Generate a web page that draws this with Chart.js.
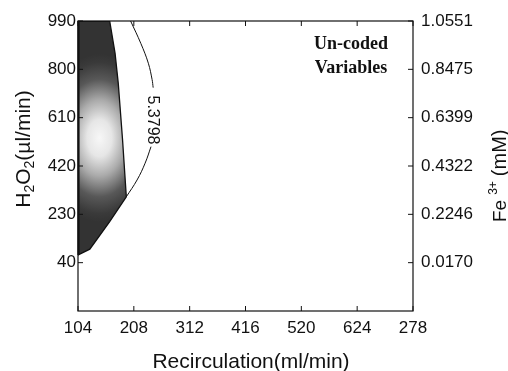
<!DOCTYPE html>
<html><head><meta charset="utf-8">
<script src="https://cdn.jsdelivr.net/npm/chart.js@4"></script>
<style>html,body{margin:0;padding:0;background:#fff}</style>
</head><body>
<canvas id="c" width="508" height="371"></canvas>
<script>
// ---- data ----
const xTickValues = [104, 208, 312, 416, 520, 624, 728];
const xTickLabels = ['104', '208', '312', '416', '520', '624', '278'];
const h2o2Ticks = [40, 230, 420, 610, 800, 990];
const feTicks = [0.0170, 0.2246, 0.4322, 0.6399, 0.8475, 1.0551];
const feLabels = ['0.0170', '0.2246', '0.4322', '0.6399', '0.8475', '1.0551'];
const regionX = [104, 163, 173, 179, 187, 194, 163, 126, 104, 104];
const regionY = [990, 990, 864, 745, 522, 299, 201, 93, 70, 990];
const contourTopX = [202, 221, 235, 242, 244];
const contourTopY = [990, 902, 824, 760, 728];
const contourBotX = [240, 229, 214, 194];
const contourBotY = [496, 431, 365, 299];
const contourLabel = '5.3798';
const contourLabelAt = [242, 601];
const shadeCenter = [144, 530];

const toPts = (xs, ys) => xs.map((x, i) => ({x, y: ys[i]}));
const feStep = (feTicks[5] - feTicks[0]) / 5;

let shadeCache = null;
function shade(chart) {
  if (!chart.chartArea) return '#555';
  const key = chart.width + 'x' + chart.height;
  if (shadeCache && shadeCache.key === key) return shadeCache.p;
  const cx = chart.scales.x.getPixelForValue(shadeCenter[0]);
  const cy = chart.scales.y.getPixelForValue(shadeCenter[1]);
  const off = document.createElement('canvas');
  off.width = chart.width; off.height = chart.height;
  const g = off.getContext('2d');
  const rx = 56, ry = 84;
  g.translate(cx, cy); g.scale(1, ry / rx);
  const gr = g.createRadialGradient(0, 0, 0, 0, 0, rx);
  gr.addColorStop(0, '#f7f7f7');
  gr.addColorStop(0.22, '#e6e6e6');
  gr.addColorStop(0.45, '#ababab');
  gr.addColorStop(0.7, '#585858');
  gr.addColorStop(0.9, '#3a3a3a');
  gr.addColorStop(1, '#333333');
  g.fillStyle = gr; g.fillRect(-2000, -2000, 4000, 4000);
  const p = chart.ctx.createPattern(off, 'no-repeat');
  shadeCache = {key, p};
  return p;
}

function rich(ctx, parts, x, y, rot, align) {
  ctx.save(); ctx.translate(x, y); ctx.rotate(rot);
  ctx.textAlign = 'left'; ctx.textBaseline = 'alphabetic'; ctx.fillStyle = '#111';
  let total = 0;
  parts.forEach(p => { if (p.t) { ctx.font = p.font; p.w = ctx.measureText(p.t).width; } else p.w = p.gap; total += p.w; });
  let cur = align === 'center' ? -total / 2 : 0;
  parts.forEach(p => { if (p.t) { ctx.font = p.font; ctx.fillText(p.t, cur, p.dy || 0); } cur += p.w; });
  ctx.restore();
}

const decor = {
  id: 'decor',
  afterDraw(chart) {
    const ctx = chart.ctx, a = chart.chartArea;
    const xs = chart.scales.x, ys = chart.scales.y, y2 = chart.scales.y2;
    ctx.save();
    ctx.strokeStyle = '#111'; ctx.lineWidth = 1.2;
    ctx.strokeRect(a.left, a.top, a.right - a.left, a.bottom - a.top);
    ctx.lineWidth = 1; ctx.beginPath();
    const tl = 5;
    xs.ticks.forEach(t => {
      const px = xs.getPixelForValue(t.value);
      ctx.moveTo(px, a.bottom); ctx.lineTo(px, a.bottom - tl);
      ctx.moveTo(px, a.top); ctx.lineTo(px, a.top + tl);
    });
    ys.ticks.forEach(t => { const py = ys.getPixelForValue(t.value); ctx.moveTo(a.left, py); ctx.lineTo(a.left + tl, py); });
    y2.ticks.forEach(t => { const py = y2.getPixelForValue(t.value); ctx.moveTo(a.right, py); ctx.lineTo(a.right - tl, py); });
    ctx.stroke();
    ctx.lineWidth = 2.2; ctx.beginPath();
    ctx.moveTo(a.left + 0.5, a.top); ctx.lineTo(a.left + 0.5, ys.getPixelForValue(regionY[8]));
    ctx.stroke();

    ctx.save();
    ctx.translate(xs.getPixelForValue(contourLabelAt[0]), ys.getPixelForValue(contourLabelAt[1]));
    ctx.rotate(Math.PI / 2);
    ctx.font = '16px "Liberation Sans", Arial, sans-serif';
    ctx.fillStyle = '#111'; ctx.textAlign = 'center'; ctx.textBaseline = 'middle';
    ctx.fillText(contourLabel, 0, 0);
    ctx.restore();

    ctx.fillStyle = '#111'; ctx.textAlign = 'center'; ctx.textBaseline = 'alphabetic';
    ctx.font = 'bold 18px "Liberation Serif", "Times New Roman", serif';
    ctx.fillText('Un-coded', 351, 49);
    ctx.fillText('Variables', 351, 73);
    ctx.restore();

    const sf = s => s + 'px "Liberation Sans", Arial, sans-serif';
    rich(ctx, [{t: 'Recirculation(ml/min)', font: sf(21)}], 251, 368, 0, 'center');
    rich(ctx, [
      {t: 'H', font: sf(21)}, {t: '2', font: sf(14), dy: 4},
      {t: 'O', font: sf(21)}, {t: '2', font: sf(14), dy: 4},
      {t: '(µl/min)', font: sf(21)}
    ], 30, 149, -Math.PI / 2, 'center');
    rich(ctx, [
      {t: 'Fe', font: sf(19)}, {gap: 5},
      {t: '3+', font: sf(12), dy: -9}, {gap: 5},
      {t: '(mM)', font: sf(20)}
    ], 506, 222, -Math.PI / 2, 'left');
  }
};

const tickFont = {family: '"Liberation Sans", Arial, sans-serif', size: 17};

new Chart(document.getElementById('c').getContext('2d'), {
  type: 'line',
  data: {
    datasets: [
      {data: toPts(regionX, regionY), fill: 'shape', backgroundColor: c => shade(c.chart),
       borderColor: '#111', borderWidth: 1.3, pointRadius: 0, tension: 0, yAxisID: 'y'},
      {data: toPts(contourTopX, contourTopY), fill: false, borderColor: '#111', borderWidth: 1,
       pointRadius: 0, tension: 0.4, yAxisID: 'y'},
      {data: toPts(contourBotX, contourBotY), fill: false, borderColor: '#111', borderWidth: 1,
       pointRadius: 0, tension: 0.4, yAxisID: 'y'}
    ]
  },
  options: {
    responsive: false, animation: false,
    plugins: {legend: {display: false}, tooltip: {enabled: false}},
    layout: {padding: {top: 21, left: 0, right: 0, bottom: 0}},
    scales: {
      x: {
        type: 'linear', min: xTickValues[0], max: xTickValues[xTickValues.length - 1],
        afterBuildTicks: s => { s.ticks = xTickValues.map(v => ({value: v})); },
        afterFit: s => { s.height = 60; },
        ticks: {callback: (v, i) => xTickLabels[i], font: tickFont, color: '#111', padding: 7, maxRotation: 0, autoSkip: false},
        grid: {display: false, drawTicks: false}, border: {display: false}
      },
      y: {
        type: 'linear', position: 'left', min: h2o2Ticks[0] - (h2o2Ticks[1] - h2o2Ticks[0]), max: h2o2Ticks[h2o2Ticks.length - 1],
        afterBuildTicks: s => { s.ticks = h2o2Ticks.map(v => ({value: v})); },
        afterFit: s => { s.width = 78; },
        ticks: {callback: v => String(v), font: tickFont, color: '#111', padding: 2, autoSkip: false},
        grid: {display: false, drawTicks: false}, border: {display: false}
      },
      y2: {
        type: 'linear', position: 'right', min: feTicks[0] - feStep, max: feTicks[feTicks.length - 1],
        afterBuildTicks: s => { s.ticks = feTicks.map(v => ({value: v})); },
        afterFit: s => { s.width = 95; },
        ticks: {callback: (v, i) => feLabels[i], font: tickFont, color: '#111', padding: 8, autoSkip: false},
        grid: {display: false, drawTicks: false}, border: {display: false}
      }
    }
  },
  plugins: [decor]
});
</script>
</body></html>
